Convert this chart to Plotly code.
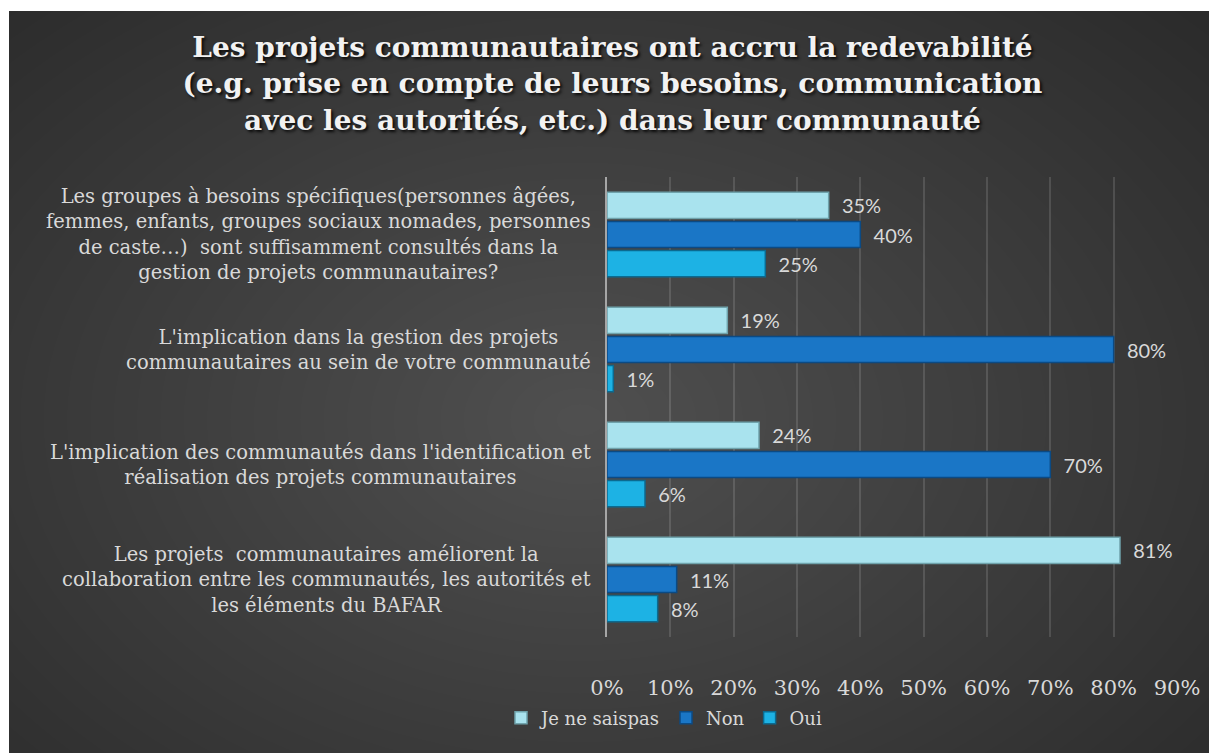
import plotly.graph_objects as go

categories = [
    "Les groupes à besoins spécifiques(personnes âgées,<br>femmes, enfants, groupes sociaux nomades, personnes<br>de caste…)  sont suffisamment consultés dans la<br>gestion de projets communautaires?",
    "L'implication dans la gestion des projets<br>communautaires au sein de votre communauté",
    "L'implication des communautés dans l'identification et<br>réalisation des projets communautaires",
    "Les projets  communautaires améliorent la<br>collaboration entre les communautés, les autorités et<br>les éléments du BAFAR",
]
je_ne_sais_pas = [35, 19, 24, 81]
non = [40, 80, 70, 11]
oui = [25, 1, 6, 8]
x_ticks = [0, 10, 20, 30, 40, 50, 60, 70, 80, 90]

TITLE = ("Les projets communautaires ont accru la redevabilité<br>"
         "(e.g. prise en compte de leurs besoins, communication<br>"
         "avec les autorités, etc.) dans leur communauté")

# page body adds an 8px margin, so the figure is a bit smaller than the window
OFF = 8
W, H = 1217 - OFF, 753 - OFF
L, R, T, B = 599, 40, 169, 116
PW, PH = W - L - R, H - T - B


def px_x(p):
    # screenshot pixel -> paper x
    return (p - OFF - L) / PW


def px_y(p):
    # screenshot pixel -> paper y
    return (H - B - (p - OFF)) / PH


LABEL_COLOR = "#d9d9d9"
SERIF = "DejaVu Serif"

series = [
    ("Je ne saispas", je_ne_sais_pas, "#a9e3ee", "#6fa3ac"),
    ("Non", non, "#1a76c6", "#0b4a84"),
    ("Oui", oui, "#1db2e4", "#0b6a90"),
]

fig = go.Figure()
for name, values, color, edge in series:
    fig.add_bar(
        y=categories,
        x=values,
        name=name,
        orientation="h",
        marker={"color": color, "line": {"color": edge, "width": 1.5}},
        text=[f"{v}%" for v in values],
        texttemplate="  %{text}",
        textposition="outside",
        constraintext="none",
        cliponaxis=False,
        textfont={"family": "Lato", "size": 20, "color": LABEL_COLOR},
        hoverinfo="skip",
    )

# dark chart area with a soft radial glow
shapes = [
    dict(type="rect", xref="paper", yref="paper", x0=px_x(9), x1=px_x(1225),
         y0=px_y(760), y1=px_y(11), fillcolor="#2b2b2b", line={"width": 0}, layer="below")
]
cx, cy = 580, 420
steps = 36
for i in range(steps):
    f = 1 - i / steps
    rx, ry = 840 * f, 580 * f
    shapes.append(dict(type="circle", xref="paper", yref="paper",
                       x0=px_x(cx - rx), x1=px_x(cx + rx), y0=px_y(cy + ry), y1=px_y(cy - ry),
                       fillcolor="rgba(255,255,255,0.0075)", line={"width": 0}, layer="below"))

annotations = [
    dict(text=c, x=0, xref="paper", y=c, yref="y", xanchor="right", xshift=-14,
         align="center", showarrow=False,
         font={"family": SERIF, "size": 19.5, "color": LABEL_COLOR})
    for c in categories
]

fig.update_layout(
    width=W,
    height=H,
    margin={"l": L, "r": R, "t": T, "b": B},
    paper_bgcolor="white",
    plot_bgcolor="rgba(0,0,0,0)",
    barmode="group",
    bargap=0.24,
    bargroupgap=0.1,
    shapes=shapes,
    annotations=annotations,
    title={
        "text": TITLE,
        "x": 0.5,
        "xref": "container",
        "xanchor": "center",
        "y": 1 - 49 / H,
        "yref": "container",
        "yanchor": "top",
        "font": {"family": SERIF, "size": 28, "color": "#f2f2f2", "weight": "bold",
                 "shadow": "2px 2px 3px rgba(0,0,0,0.85)"},
    },
    legend={
        "orientation": "h",
        "x": px_x(664),
        "xanchor": "center",
        "y": px_y(718),
        "yanchor": "middle",
        "font": {"family": SERIF, "size": 18, "color": LABEL_COLOR},
        "bgcolor": "rgba(0,0,0,0)",
        "itemwidth": 30,
    },
    showlegend=True,
)
fig.update_xaxes(
    range=[0, 90],
    tickvals=x_ticks,
    ticktext=[f"{v}%" for v in x_ticks],
    showgrid=True,
    gridcolor="rgba(255,255,255,0.13)",
    gridwidth=1.5,
    zeroline=False,
    showline=False,
    ticks="",
    ticklabelstandoff=36,
    tickfont={"family": SERIF, "size": 21, "color": LABEL_COLOR},
)
fig.update_yaxes(
    type="category",
    autorange="reversed",
    showticklabels=False,
    showgrid=False,
    showline=True,
    linecolor="#a6a6a6",
    linewidth=2,
    ticks="",
)

fig.write_html("out.html")
